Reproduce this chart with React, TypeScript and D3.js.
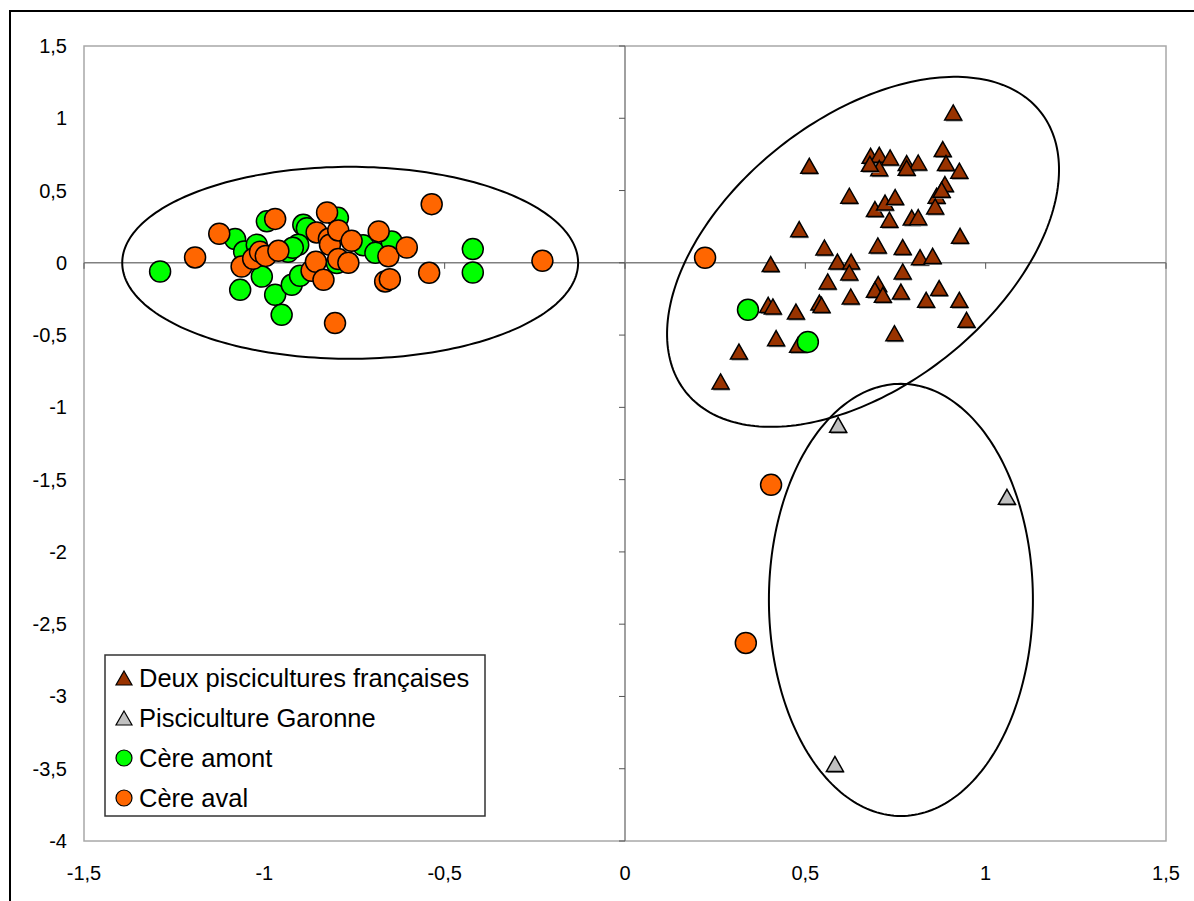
import React from "react";
import * as d3 from "d3";

// Data (x, y) per series
const deuxPiscicultures: [number, number][] = [
  [0.910, 1.040], [0.881, 0.787], [0.890, 0.690], [0.927, 0.637], [0.681, 0.740],
  [0.705, 0.747], [0.735, 0.729], [0.705, 0.655], [0.679, 0.685], [0.781, 0.690],
  [0.813, 0.694], [0.781, 0.657], [0.511, 0.671], [0.622, 0.464], [0.693, 0.372],
  [0.721, 0.417], [0.749, 0.455], [0.733, 0.298], [0.795, 0.313], [0.813, 0.316],
  [0.887, 0.545], [0.864, 0.464], [0.878, 0.505], [0.860, 0.390], [0.929, 0.187],
  [0.483, 0.233], [0.553, 0.106], [0.701, 0.120], [0.770, 0.109], [0.818, 0.039],
  [0.853, 0.048], [0.404, -0.009], [0.589, 0.009], [0.627, 0.009], [0.622, -0.067],
  [0.770, -0.060], [0.562, -0.129], [0.702, -0.147], [0.693, -0.187], [0.715, -0.221],
  [0.765, -0.199], [0.871, -0.175], [0.626, -0.233], [0.835, -0.256], [0.927, -0.256],
  [0.539, -0.275], [0.545, -0.291], [0.397, -0.291], [0.410, -0.302], [0.474, -0.337],
  [0.947, -0.394], [0.747, -0.487], [0.419, -0.521], [0.480, -0.567], [0.316, -0.614],
  [0.265, -0.821],
];

const piscicultureGaronne: [number, number][] = [
  [0.591, -1.121], [1.059, -1.619], [0.582, -3.467],
];

const cereAmont: [number, number][] = [
  [-1.289, -0.060], [-1.081, 0.164], [-1.056, 0.078], [-1.021, 0.125], [-1.067, -0.187],
  [-1.007, -0.095], [-0.993, 0.287], [-0.970, -0.221], [-0.952, -0.360], [-0.924, -0.152],
  [-0.901, -0.090], [-0.892, 0.263], [-0.882, 0.240], [-0.906, 0.125], [-0.934, 0.076],
  [-0.921, 0.104], [-0.799, -0.002], [-0.796, 0.311], [-0.726, 0.121], [-0.692, 0.069],
  [-0.647, 0.147], [-0.422, 0.095], [-0.422, -0.067], [0.341, -0.325], [0.507, -0.547],
];

const cereAval: [number, number][] = [
  [-1.192, 0.037], [-1.125, 0.201], [-1.063, -0.026], [-1.031, 0.028], [-1.012, 0.076],
  [-0.996, 0.048], [-0.961, 0.083], [-0.970, 0.304], [-0.869, -0.055], [-0.857, 0.007],
  [-0.836, -0.118], [-0.855, 0.210], [-0.826, 0.348], [-0.821, 0.166], [-0.818, 0.125],
  [-0.795, 0.224], [-0.795, 0.026], [-0.767, 0.000], [-0.758, 0.152], [-0.804, -0.417],
  [-0.683, 0.217], [-0.656, 0.045], [-0.665, -0.129], [-0.652, -0.113], [-0.605, 0.106],
  [-0.543, -0.069], [-0.536, 0.406], [-0.229, 0.014], [0.222, 0.035], [0.405, -1.536],
  [0.335, -2.630],
];

// Ellipses: centre and two conjugate semi-axis vectors, in data units
const ellipses = [
  { cx: -0.762, cy: 0.0, ux: 0.632, uy: 0.0, vx: 0.0, vy: 0.664 },
  { cx: 0.660, cy: 0.076, ux: 0.4925, uy: 0.9668, vx: 0.2296, vy: -0.7288 },
  { cx: 0.765, cy: -2.332, ux: 0.366, uy: 0.0, vx: 0.0, vy: 1.495 },
];

const xTicks = [-1.5, -1, -0.5, 0, 0.5, 1, 1.5];
const yTicks = [1.5, 1, 0.5, 0, -0.5, -1, -1.5, -2, -2.5, -3, -3.5, -4];

const legendItems = [
  { label: "Deux piscicultures françaises", shape: "triangle", color: "#993300" },
  { label: "Pisciculture Garonne", shape: "triangle", color: "#C0C0C0" },
  { label: "Cère amont", shape: "circle", color: "#00FF00" },
  { label: "Cère aval", shape: "circle", color: "#FF6600" },
];

const W = 1194;
const H = 901;
const plot = { left: 84, right: 1166, top: 46, bottom: 841 };
const FONT = "'Liberation Sans', Arial, sans-serif";

const fmt = (v: number) => String(v).replace(".", ",");

function triPath(cx: number, cy: number, w: number, h: number) {
  return `M${cx},${cy - h / 2}L${cx + w / 2},${cy + h / 2}L${cx - w / 2},${cy + h / 2}Z`;
}

export default function App() {
  const x = d3.scaleLinear().domain([-1.5, 1.5]).range([plot.left, plot.right]);
  const y = d3.scaleLinear().domain([-4, 1.5]).range([plot.bottom, plot.top]);

  const line = d3
    .line<[number, number]>()
    .x((d) => x(d[0]))
    .y((d) => y(d[1]))
    .curve(d3.curveLinearClosed);

  const ellipsePath = (e: typeof ellipses[number]) => {
    const pts: [number, number][] = d3.range(0, 240).map((i) => {
      const t = (i / 240) * Math.PI * 2;
      return [
        e.cx + e.ux * Math.cos(t) + e.vx * Math.sin(t),
        e.cy + e.uy * Math.cos(t) + e.vy * Math.sin(t),
      ];
    });
    return line(pts) || "";
  };

  const x0 = x(0);
  const y0 = y(0);

  const triangles = (data: [number, number][], color: string, key: string) =>
    data.map((d, i) => (
      <g key={key + i}>
        <path d={triPath(x(d[0]) + 1, y(d[1]) + 1.5, 17, 15)} fill="#8c8c8c" />
        <path d={triPath(x(d[0]), y(d[1]), 17, 15)} fill={color} stroke="#000" strokeWidth={1.5} strokeLinejoin="miter" />
      </g>
    ));

  const circles = (data: [number, number][], color: string, key: string) =>
    data.map((d, i) => (
      <circle key={key + i} cx={x(d[0])} cy={y(d[1])} r={10.5} fill={color} stroke="#000" strokeWidth={1.5} />
    ));

  return (
    <svg
      width={W}
      height={H}
      style={{ position: "absolute", left: 0, top: 0, display: "block", background: "#fff" }}
      fontFamily={FONT}
    >
      <rect x={0} y={0} width={W} height={H} fill="#fff" />
      {/* outer chart frame (extends past the window) */}
      <rect x={10} y={11} width={W + 20} height={H + 20} fill="none" stroke="#000" strokeWidth={2} />
      {/* plot area */}
      <rect
        x={plot.left}
        y={plot.top}
        width={plot.right - plot.left}
        height={plot.bottom - plot.top}
        fill="none"
        stroke="#a8a8a8"
        strokeWidth={1.5}
      />
      {/* zero axes */}
      <line x1={plot.left} x2={plot.right} y1={y0} y2={y0} stroke="#808080" strokeWidth={1.5} />
      <line x1={x0} x2={x0} y1={plot.top} y2={plot.bottom} stroke="#808080" strokeWidth={1.5} />
      {xTicks.map((t) => (
        <line key={"xt" + t} x1={x(t)} x2={x(t)} y1={y0} y2={y0 + 6} stroke="#555" strokeWidth={1} />
      ))}
      {yTicks.map((t) => (
        <line key={"yt" + t} x1={x0 - 6} x2={x0} y1={y(t)} y2={y(t)} stroke="#555" strokeWidth={1} />
      ))}
      {/* tick labels */}
      {yTicks.map((t) => (
        <text key={"yl" + t} x={67} y={y(t) + 7} textAnchor="end" fontSize={20} fill="#000">
          {fmt(t)}
        </text>
      ))}
      {xTicks.map((t) => (
        <text key={"xl" + t} x={x(t)} y={880} textAnchor="middle" fontSize={20} fill="#000">
          {fmt(t)}
        </text>
      ))}
      {/* markers */}
      {triangles(deuxPiscicultures, "#993300", "dp")}
      {triangles(piscicultureGaronne, "#C0C0C0", "pg")}
      {circles(cereAmont, "#00FF00", "ca")}
      {circles(cereAval, "#FF6600", "cv")}
      {/* ellipses */}
      {ellipses.map((e, i) => (
        <path key={"el" + i} d={ellipsePath(e)} fill="none" stroke="#000" strokeWidth={2} />
      ))}
      {/* legend */}
      <g>
        <rect x={105} y={655} width={380} height={161} fill="#fff" stroke="#333" strokeWidth={1.5} />
        {legendItems.map((it, i) => {
          const cy = 678 + i * 40;
          return (
            <g key={"lg" + i}>
              {it.shape === "triangle" ? (
                <path d={triPath(124, cy, 16, 14)} fill={it.color} stroke="#000" strokeWidth={1.2} />
              ) : (
                <circle cx={124} cy={cy} r={8} fill={it.color} stroke="#000" strokeWidth={1.2} />
              )}
              <text x={139} y={cy + 9} fontSize={25.5} fill="#000">
                {it.label}
              </text>
            </g>
          );
        })}
      </g>
    </svg>
  );
}
